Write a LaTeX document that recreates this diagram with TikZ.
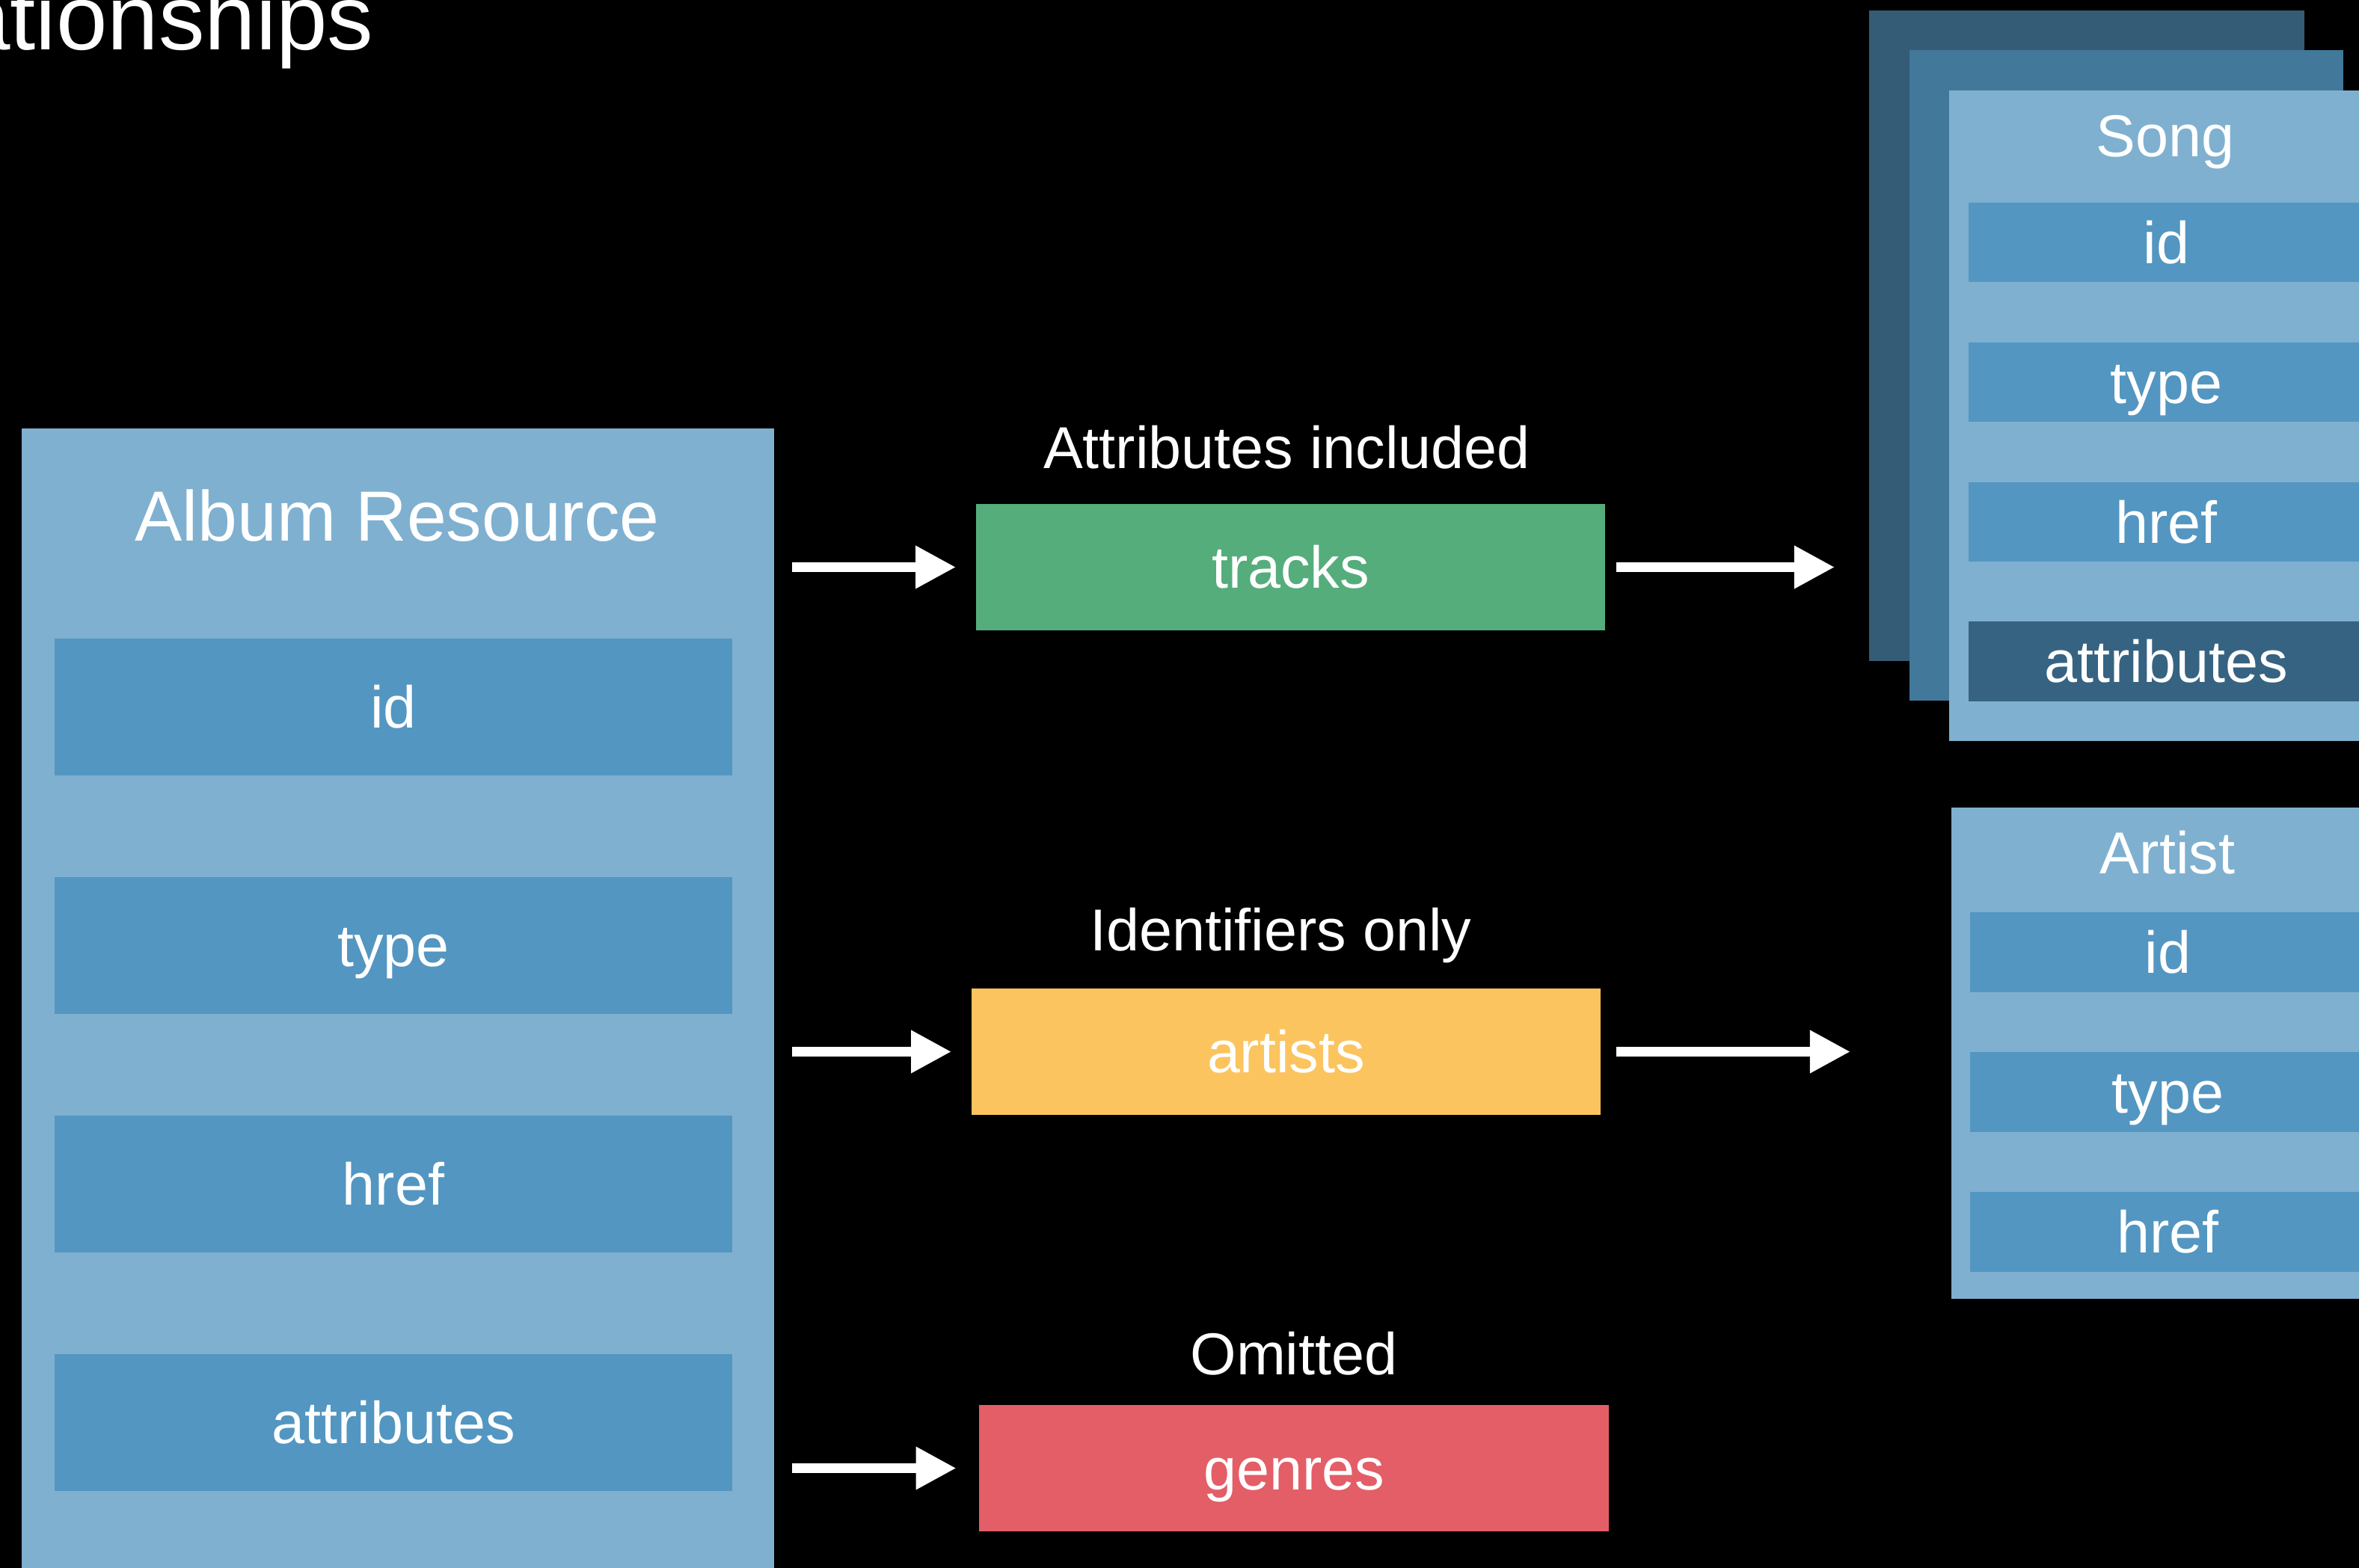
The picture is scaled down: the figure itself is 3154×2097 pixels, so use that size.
\documentclass[tikz,border=0pt]{standalone}
\usepackage{fontspec}
\setmainfont{Liberation Sans}
\usetikzlibrary{positioning,arrows.meta}

\definecolor{panelblue}{RGB}{127,176,208}
\definecolor{barblue}{RGB}{83,150,193}
\definecolor{stackdark}{RGB}{52,92,118}
\definecolor{stackmid}{RGB}{66,120,154}
\definecolor{attrdark}{RGB}{55,99,130}
\definecolor{relgreen}{RGB}{85,173,124}
\definecolor{relyellow}{RGB}{252,196,94}
\definecolor{relred}{RGB}{227,94,103}

\begin{document}
\begin{tikzpicture}[
    x=0.01cm, y=-0.01cm,
    font=\fontsize{22.5}{27}\selectfont,
    panel/.style={fill=panelblue, inner sep=0pt, anchor=north west},
    field/.style={fill=barblue, text=white, inner sep=0pt, anchor=north west, text height=16.2pt, text depth=0pt},
    rel/.style={text=white, inner sep=0pt, minimum width=8.41cm, minimum height=1.69cm, text height=16.2pt, text depth=0pt},
    caption/.style={text=white, anchor=base},
    arrow/.style={white, line width=0.13cm, -{Triangle[length=0.54cm, width=0.54cm]}}
]

\useasboundingbox (0,0) rectangle (3154,2097);
\clip (0,0) rectangle (3154,2097);
\fill[black] (0,0) rectangle (3154,2097);

% Slide title
\node[caption, anchor=base east, font=\fontsize{35}{40}\selectfont] (title) at (512,67) {Relationships};

% Album resource
\node[panel, minimum width=10.06cm, minimum height=16cm] (album) at (28,572) {};
\node[caption, font=\fontsize{27}{32}\selectfont] (albumTitle) at (531,723) {Album Resource};

\node[field, minimum width=9.06cm, minimum height=1.83cm] (albumId) at (72,853) {id};
\node[field, minimum width=9.06cm, minimum height=1.83cm] (albumType) at (72,1172) {type};
\node[field, minimum width=9.06cm, minimum height=1.83cm] (albumHref) at (72,1491) {href};
\node[field, minimum width=9.06cm, minimum height=1.83cm] (albumAttr) at (72,1810) {attributes};

% Relationships
\node[rel, fill=relgreen] (tracks) at (1725.5,758.5) {tracks};
\node[rel, fill=relyellow] (artists) at (1719.5,1406.5) {artists};
\node[rel, fill=relred] (genres) at (1730,1963.5) {genres};

\node[caption] (inclLbl) at ([xshift=-0.05cm, yshift=0.47cm] tracks.north) {Attributes included};
\node[caption] (idsLbl) at ([xshift=-0.07cm, yshift=0.50cm] artists.north) {Identifiers only};
\node[caption] (omitLbl) at ([yshift=0.40cm] genres.north) {Omitted};

% Song stack
\node[panel, fill=stackdark, minimum width=5.82cm, minimum height=8.70cm] (songBack) at (2498,13) {};
\node[panel, fill=stackmid, minimum width=5.80cm, minimum height=8.70cm] (songMid) at (2552,66) {};
\node[panel, minimum width=5.81cm, minimum height=8.70cm] (song) at (2605,120) {};
\node[caption] (songTitle) at (2895,209) {Song};

\node[field, minimum width=5.29cm, minimum height=1.06cm] (songId) at (2631,270) {id};
\node[field, minimum width=5.29cm, minimum height=1.06cm] (songType) at (2631,457) {type};
\node[field, minimum width=5.29cm, minimum height=1.06cm] (songHref) at (2631,644) {href};
\node[field, fill=attrdark, minimum width=5.29cm, minimum height=1.07cm] (songAttr) at (2631,830) {attributes};

% Artist
\node[panel, minimum width=5.81cm, minimum height=6.57cm] (artist) at (2608,1079) {};
\node[caption] (artistTitle) at (2898,1168) {Artist};

\node[field, minimum width=5.29cm, minimum height=1.07cm] (artistId) at (2633,1219) {id};
\node[field, minimum width=5.29cm, minimum height=1.07cm] (artistType) at (2633,1406) {type};
\node[field, minimum width=5.29cm, minimum height=1.07cm] (artistHref) at (2633,1593) {href};

% Arrows
\draw[arrow, shorten <=0.23cm, shorten >=0.26cm] (album.east |- tracks.west) -- (tracks.west);
\draw[arrow, shorten <=0.23cm, shorten >=0.26cm] (album.east |- artists.west) -- (artists.west);
\draw[arrow, shorten <=0.23cm, shorten >=0.30cm] (album.east |- genres.west) -- (genres.west);

\draw[arrow, shorten <=0.14cm, shorten >=0.45cm] (tracks.east) -- (tracks.east -| songBack.west);
\draw[arrow, shorten <=0.20cm, shorten >=1.34cm] (artists.east) -- (artists.east -| artist.west);

\end{tikzpicture}
\end{document}
